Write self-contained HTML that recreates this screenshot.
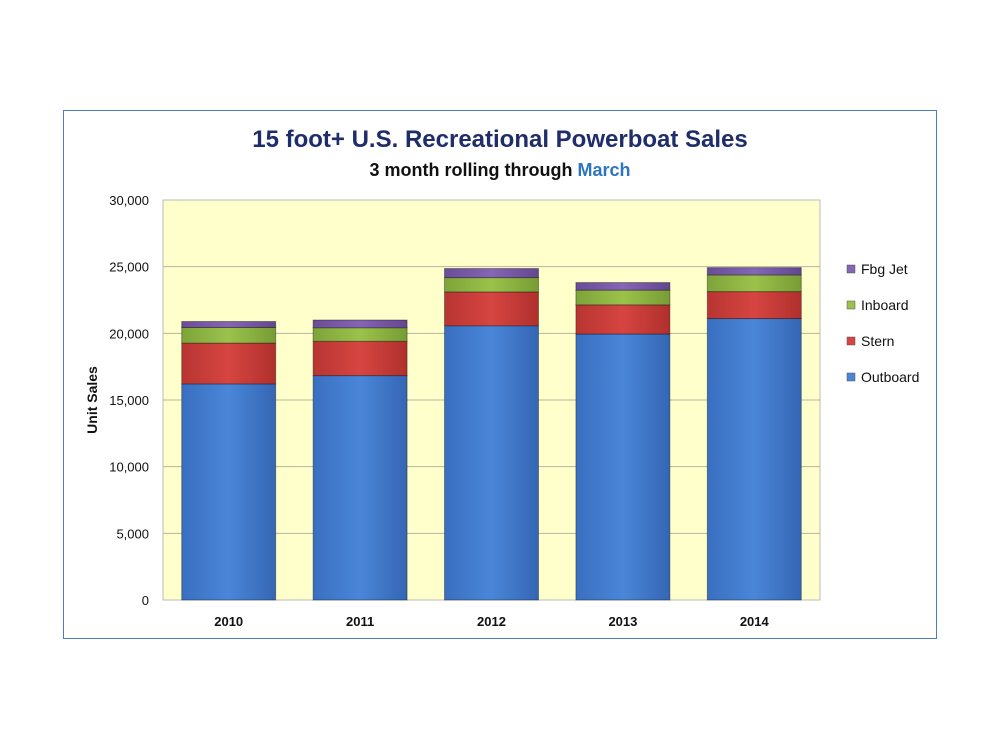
<!DOCTYPE html>
<html><head><meta charset="utf-8"><style>
body{margin:0;background:#fff;font-family:"Liberation Sans",sans-serif}
</style></head><body>
<svg width="1000" height="750" xmlns="http://www.w3.org/2000/svg">
<defs>
<linearGradient id="gOut" x1="0" y1="0" x2="1" y2="0"><stop offset="0" stop-color="#3a6fc0"/><stop offset="0.5" stop-color="#4a86d8"/><stop offset="1" stop-color="#3566b4"/></linearGradient>
<linearGradient id="gSt" x1="0" y1="0" x2="1" y2="0"><stop offset="0" stop-color="#b83532"/><stop offset="0.5" stop-color="#d64541"/><stop offset="1" stop-color="#b0302d"/></linearGradient>
<linearGradient id="gIn" x1="0" y1="0" x2="1" y2="0"><stop offset="0" stop-color="#7ea33a"/><stop offset="0.5" stop-color="#9bc24b"/><stop offset="1" stop-color="#779c35"/></linearGradient>
<linearGradient id="gJet" x1="0" y1="0" x2="1" y2="0"><stop offset="0" stop-color="#6a4c98"/><stop offset="0.5" stop-color="#8565b5"/><stop offset="1" stop-color="#634690"/></linearGradient>
</defs>
<rect x="63.5" y="110.5" width="873" height="528" fill="#fff" stroke="#4a7cc4" stroke-width="1"/>
<text x="500" y="147" text-anchor="middle" font-size="24" font-weight="bold" fill="#1f2d6b">15 foot+ U.S. Recreational Powerboat Sales</text>
<text x="500" y="176" text-anchor="middle" font-size="18" font-weight="bold" fill="#111">3 month rolling through <tspan fill="#2e75c0">March</tspan></text>
<rect x="163" y="200" width="657" height="400" fill="#ffffcc" stroke="#bbb"/>
<g id="grid"></g><g id="bars"></g><g id="axes"></g>
<text transform="translate(97,400) rotate(-90)" text-anchor="middle" font-size="14" font-weight="bold" fill="#111">Unit Sales</text>
<g id="legend"></g>
</svg>
<script>
const categories=["2010","2011","2012","2013","2014"];
const outboard=[16210,16830,20570,19950,21110];
const stern=[3060,2570,2540,2190,2020];
const inboard=[1170,1020,1070,1100,1250];
const fbgJet=[450,580,680,570,550];
const yTicks=[0,5000,10000,15000,20000,25000,30000];
const seriesNames=["Outboard","Stern","Inboard","Fbg Jet"];
const NS="http://www.w3.org/2000/svg";
const x0=163,x1=820,yTop=200,yBot=600,yMax=30000;
const y=v=>yBot-(v/yMax)*(yBot-yTop);
const band=(x1-x0)/categories.length;
const xc=i=>x0+band*(i+0.5);
function mk(t,a,p){const e=document.createElementNS(NS,t);for(const k in a)e.setAttribute(k,a[k]);p.appendChild(e);return e;}
const grid=document.getElementById('grid'),axes=document.getElementById('axes'),bars=document.getElementById('bars'),leg=document.getElementById('legend');
yTicks.forEach(v=>{
 if(v>0&&v<yMax){const l=mk('line',{x1:x0,x2:x1,y1:y(v),y2:y(v),stroke:'#b5b5a0','stroke-width':1},grid);
 
 }
 const t=mk('text',{x:x0-14,y:y(v)+5,'text-anchor':'end','font-size':13,fill:'#111'},axes);
 t.textContent=v.toLocaleString('en-US');
 
 
});
const series=[outboard,stern,inboard,fbgJet];
const fills=['url(#gOut)','url(#gSt)','url(#gIn)','url(#gJet)'];
const keys=['outboard','stern','inboard','fbg-jet'];
const bw=94;
categories.forEach((c,i)=>{
 let acc=0;
 series.forEach((s,j)=>{
  const top=y(acc+s[i]),bot=y(acc);
  const r=mk('rect',{x:xc(i)-bw/2,y:top,width:bw,height:bot-top,fill:fills[j],stroke:'rgba(0,0,0,0.35)','stroke-width':1},bars);
  
  
  acc+=s[i];
 });
 const t=mk('text',{x:xc(i),y:626,'text-anchor':'middle','font-size':13,'font-weight':'bold',fill:'#111'},axes);
 t.textContent=c;
 
 
});
const legColors=['#4a86d8','#d64541','#9bc24b','#8565b5'];
[3,2,1,0].forEach((j,k)=>{
 const yy=269+k*36;
 const r=mk('rect',{x:847,y:yy-4,width:8,height:8,fill:legColors[j],stroke:'#555','stroke-width':0.5},leg);
 
 
 const t=mk('text',{x:861,y:yy+5,'font-size':14,fill:'#111'},leg);
 t.textContent=seriesNames[j];
 
 
});
</script>
</body></html>
